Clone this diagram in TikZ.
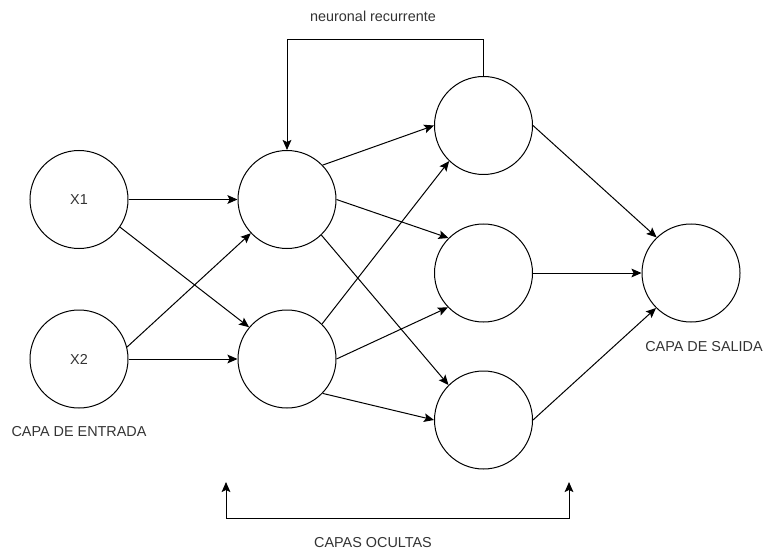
\documentclass[tikz,border=0pt]{standalone}
\usepackage{fontspec}
\setmainfont{Liberation Sans}
\usetikzlibrary{arrows.meta}
\definecolor{txt}{HTML}{333333}
\tikzset{
  neuron/.style={circle, draw=black, line width=0.75pt, minimum size=73.5pt, inner sep=0pt,
    font=\fontsize{10.8}{13}\selectfont, text=txt},
  lbl/.style={font=\fontsize{10.8}{13}\selectfont, text=txt, inner sep=0pt},
  tip/.style={Stealth[length=7.5pt,width=6.5pt,inset=1.5pt]},
  arr/.style={line width=0.75pt, -{Stealth[length=7.5pt,width=6.5pt,inset=1.5pt]}}
}
\begin{document}
\begin{tikzpicture}[x=0.75pt,y=-0.75pt]
\path[use as bounding box] (0,0) rectangle (766,552);

% neurons
\node[neuron] (x1) at (79,199.5) {X1};
\node[neuron] (x2) at (79,359) {X2};
\node[neuron] (h1a) at (287,199.5) {};
\node[neuron] (h1b) at (287,359) {};
\node[neuron] (h2a) at (483.5,125.5) {};
\node[neuron] (h2b) at (483.5,273) {};
\node[neuron] (h2c) at (483.5,420) {};
\node[neuron] (out) at (691,273) {};

% input -> first hidden layer
\draw[arr] (x1.0) -- (h1a.180);
\draw[arr] (x1.-34) -- (h1b.140);
\draw[arr] (x2.14) -- (h1a.223);
\draw[arr] (x2.0) -- (h1b.180);

% first hidden -> second hidden layer
\draw[arr] (h1a.44) -- (h2a.180);
\draw[arr] (h1a.0) -- (h2b.135);
\draw[arr] (h1a.-46) -- (h2c.135);
\draw[arr] (h1b.45) -- (h2a.226);
\draw[arr] (h1b.0) -- (h2b.224);
\draw[arr] (h1b.-44) -- (h2c.180);

% second hidden -> output
\draw[arr] (h2a.0) -- (out.134);
\draw[arr] (h2b.0) -- (out.180);
\draw[arr] (h2c.0) -- (out.225);

% recurrent loop
\coordinate (fbr) at (483.5,40);
\draw[arr] (h2a.north) -- (fbr) -| (h1a.north);

% bracket under the hidden layers
\coordinate (bl) at (226,518);
\coordinate (br) at (569,518);
\coordinate (blt) at (226,482);
\coordinate (brt) at (569,482);
\draw[line width=0.75pt, {Stealth[length=7.5pt,width=6.5pt,inset=1.5pt]}-{Stealth[length=7.5pt,width=6.5pt,inset=1.5pt]}]
  (blt) -- (bl) -- (br) -- (brt);

% labels
\node[lbl] (trec) at (373,16) {neuronal recurrente};
\node[lbl] (thid) at (373,543) {CAPAS OCULTAS};
\node[lbl] (tin) at (79,432) {CAPA DE ENTRADA};
\node[lbl] (tout) at (704,347) {CAPA DE SALIDA};
\end{tikzpicture}
\end{document}
